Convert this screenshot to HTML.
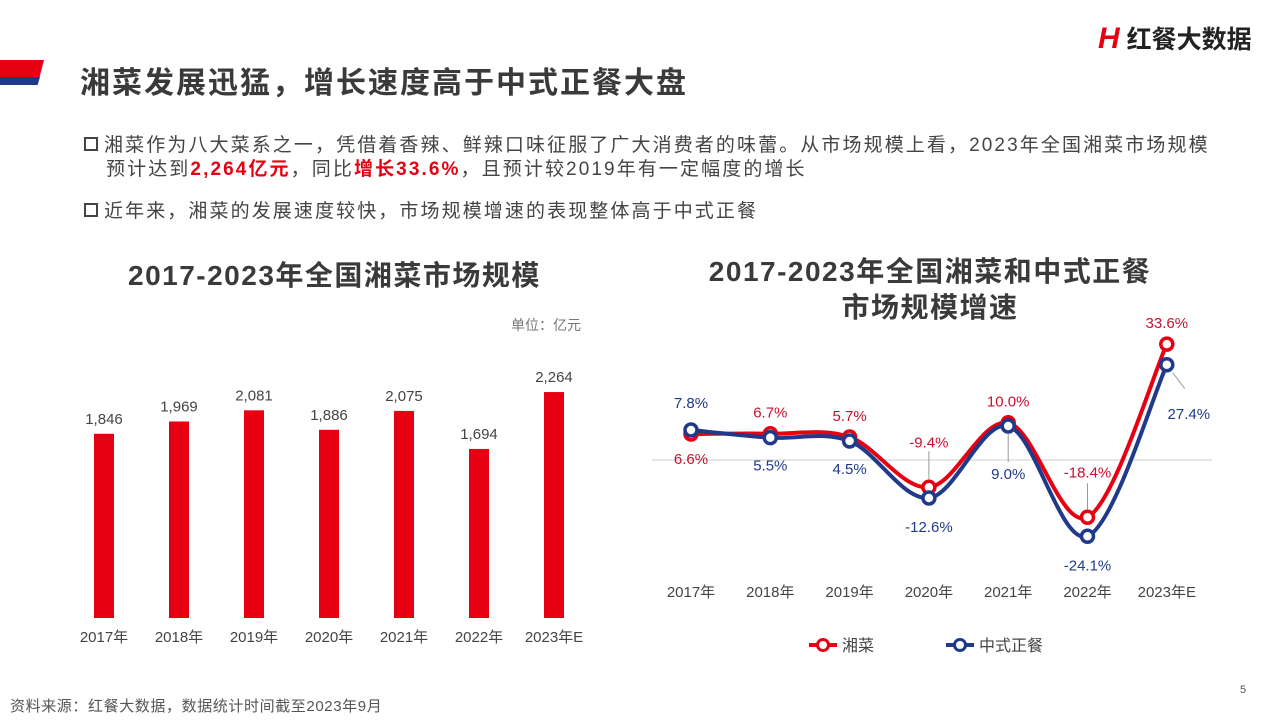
<!DOCTYPE html>
<html><head><meta charset="utf-8">
<style>
*{margin:0;padding:0;box-sizing:border-box}
body{width:1280px;height:720px;background:#fff;position:relative;overflow:hidden;font-family:"Liberation Sans","Noto Sans CJK SC",sans-serif;color:#333}
.abs{position:absolute;white-space:nowrap}
.red{color:#e60012;font-weight:bold}
</style></head><body>
<div class="abs" style="left:0;top:60px;width:44px;height:17px;background:#e60012;clip-path:polygon(0 0,100% 0,90% 100%,0 100%)"></div>
<div class="abs" style="left:0;top:77px;width:40px;height:8px;background:#1f3a8a;clip-path:polygon(0 0,100% 0,94% 100%,0 100%)"></div>
<div class="abs" style="left:80px;top:58px;font-size:30px;font-weight:bold;color:#3a3a3a;letter-spacing:2px">湘菜发展迅猛，增长速度高于中式正餐大盘</div>
<div class="abs" style="left:1098px;top:20px;font-size:25px;font-weight:bold;color:#222"><span style="color:#e60012;font-style:italic;font-size:30px">H</span> 红餐大数据</div>
<div class="abs" style="left:84px;top:134px;font-size:19px;line-height:24px;color:#444;letter-spacing:2.1px">
<span style="display:inline-block;width:14px;height:14px;border:2px solid #444;margin-right:6px"></span>湘菜作为八大菜系之一，凭借着香辣、鲜辣口味征服了广大消费者的味蕾。从市场规模上看，2023年全国湘菜市场规模<br>
<span style="padding-left:22px">预计达到<span class="red">2,264亿元</span>，同比<span class="red">增长33.6%</span>，且预计较2019年有一定幅度的增长</span></div>
<div class="abs" style="left:84px;top:196px;font-size:19px;color:#444;letter-spacing:2.1px"><span style="display:inline-block;width:14px;height:14px;border:2px solid #444;margin-right:6px"></span>近年来，湘菜的发展速度较快，市场规模增速的表现整体高于中式正餐</div>
<div class="abs" style="left:128px;top:254px;font-size:28px;font-weight:bold;color:#3a3a3a;letter-spacing:1.5px">2017-2023年全国湘菜市场规模</div>
<div class="abs" style="left:511px;top:315px;font-size:14px;color:#777">单位：亿元</div>
<div class="abs" style="left:650px;top:254px;width:560px;text-align:center;font-size:28px;font-weight:bold;color:#3a3a3a;line-height:36px;white-space:normal;letter-spacing:1.5px">2017-2023年全国湘菜和中式正餐<br>市场规模增速</div>
<div class="abs" style="left:10px;top:695px;font-size:15px;color:#555;letter-spacing:0.6px">资料来源：红餐大数据，数据统计时间截至2023年9月</div>
<div class="abs" style="left:1240px;top:684px;font-size:11px;color:#555">5</div>
<svg id="chart" width="1280" height="720" style="position:absolute;left:0;top:0"></svg>
<script>
const years=["2017年","2018年","2019年","2020年","2021年","2022年","2023年E"];
const sizes=[1846,1969,2081,1886,2075,1694,2264];
const sizeLabels=["1,846","1,969","2,081","1,886","2,075","1,694","2,264"];
const xiangGrowth=[6.6,6.7,5.7,-9.4,10.0,-18.4,33.6];
const zhongGrowth=[7.8,5.5,4.5,-12.6,9.0,-24.1,27.4];
const xiangLabels=["6.6%","6.7%","5.7%","-9.4%","10.0%","-18.4%","33.6%"];
const zhongLabels=["7.8%","5.5%","4.5%","-12.6%","9.0%","-24.1%","27.4%"];
const NS="http://www.w3.org/2000/svg";
const svg=document.getElementById('chart');
function mk(t,a,p){const e=document.createElementNS(NS,t);for(const k in a)e.setAttribute(k,a[k]);(p||svg).appendChild(e);return e;}
const bx=i=>104+i*75, by=v=>618-v*0.0998;
sizes.forEach((v,i)=>{
 const r=mk('rect',{x:bx(i)-10,y:by(v),width:20,height:618-by(v),fill:'#e60012'});
 
 
 const t=mk('text',{x:bx(i),y:by(v)-10,'text-anchor':'middle','font-size':15,fill:'#444'});t.textContent=sizeLabels[i];
 
 
 const c=mk('text',{x:bx(i),y:642,'text-anchor':'middle','font-size':15,fill:'#444'});c.textContent=years[i];
 
 
});
const lx=i=>691+i*79.3, ly=v=>456-v*3.33;
const ax=mk('line',{x1:652,x2:1212,y1:460,y2:460,stroke:'#ccc'});


years.forEach((y,i)=>{const t=mk('text',{x:lx(i),y:597,'text-anchor':'middle','font-size':15,fill:'#444'});t.textContent=y;
 
 });
function path(vals){const p=vals.map((v,i)=>[lx(i),ly(v)]);let d='M'+p[0];for(let i=0;i<p.length-1;i++){const p0=p[i-1]||p[i],p1=p[i],p2=p[i+1],p3=p[i+2]||p2;
 d+=' C'+(p1[0]+(p2[0]-p0[0])/6)+','+(p1[1]+(p2[1]-p0[1])/6)+' '+(p2[0]-(p3[0]-p1[0])/6)+','+(p2[1]-(p3[1]-p1[1])/6)+' '+p2;}return d;}
function series(vals,col,name){
 const l=mk('path',{d:path(vals),fill:'none',stroke:col,'stroke-width':4});
 
 
 vals.forEach((v,i)=>{const c=mk('circle',{cx:lx(i),cy:ly(v),r:6,fill:'#fff',stroke:col,'stroke-width':3.5});
  
  });
}
series(xiangGrowth,'#e60012','xiangcai');
series(zhongGrowth,'#1f3a8a','zhongcan');
xiangGrowth.forEach((v,i)=>{const above=i!==0;const y=above?ly(v)-(i==3||i==5?40:16):ly(v)+30;
 const t=mk('text',{x:lx(i),y:y,'text-anchor':'middle','font-size':15,fill:'#c8102e'});t.textContent=xiangLabels[i];
 
 });
zhongGrowth.forEach((v,i)=>{let x=lx(i),y;
 if(i==0)y=ly(v)-22;else if(i==4)y=ly(v)+53;else if(i==6){x=lx(i)+22;y=ly(v)+54;}else y=ly(v)+(i==3||i==5?34:33);
 const t=mk('text',{x:x,y:y,'text-anchor':'middle','font-size':15,fill:'#1f3a8a'});t.textContent=zhongLabels[i];
 
 });
[[lx(3),ly(-9.4)-8,lx(3),ly(-9.4)-36],[lx(4),ly(9)+8,lx(4),ly(9)+36],[lx(5),ly(-18.4)-8,lx(5),ly(-18.4)-34],[lx(6)+6,ly(27.4)+8,lx(6)+18,ly(27.4)+24]].forEach(a=>{
 const l=mk('line',{x1:a[0],y1:a[1],x2:a[2],y2:a[3],stroke:'#999'});
 
 });
[[809,'#e60012','湘菜'],[946,'#1f3a8a','中式正餐']].forEach(g=>{
 mk('line',{x1:g[0],x2:g[0]+28,y1:645,y2:645,stroke:g[1],'stroke-width':4});
 mk('circle',{cx:g[0]+14,cy:645,r:5.5,fill:'#fff',stroke:g[1],'stroke-width':3});
 const t=mk('text',{x:g[0]+33,y:651,'font-size':16,fill:'#444'});t.textContent=g[2];
 
 });
</script>
</body></html>
